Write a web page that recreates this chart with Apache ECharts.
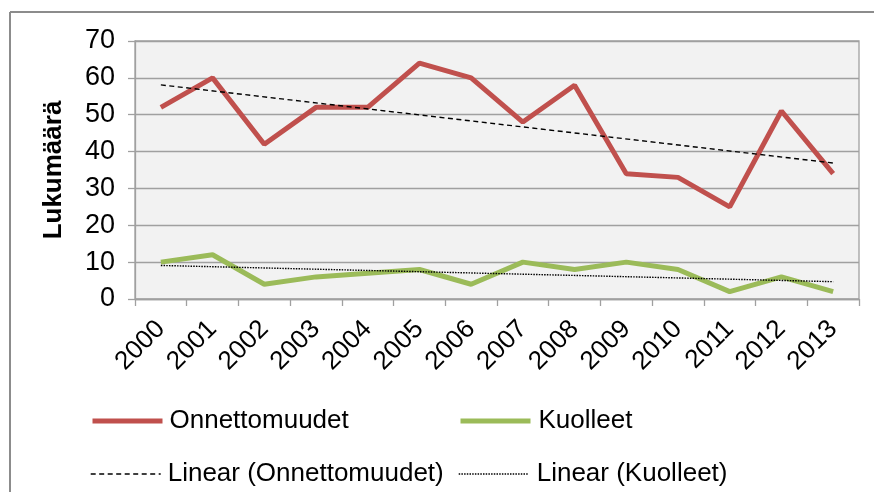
<!DOCTYPE html>
<html>
<head>
<meta charset="utf-8">
<script src="https://cdn.jsdelivr.net/npm/echarts@6/dist/echarts.min.js"></script>
<style>html,body{margin:0;padding:0;background:#fff;}#c{width:874px;height:492px;}</style>
</head>
<body>
<div id="c"></div>
<script>
const categories = ['2000','2001','2002','2003','2004','2005','2006','2007','2008','2009','2010','2011','2012','2013'];
const onnettomuudet = [52, 60, 42, 52, 52, 64, 60, 48, 58, 34, 33, 25, 51, 34];
const kuolleet = [10, 12, 4, 6, 7, 8, 4, 10, 8, 10, 8, 2, 6, 2];
// trend line end values (first year, last year)
const trendOnnettomuudet = [58.1, 36.9];
const trendKuolleet = [9.1, 4.7];
const yTicks = [0, 10, 20, 30, 40, 50, 60, 70];

function trendData(ends) {
  return categories.map((c, i) => i === 0 ? ends[0] : (i === categories.length - 1 ? ends[1] : null));
}

const FONT = '"Liberation Sans", Arial, sans-serif';
function legendAt(name, left, top, lw, pad) {
  return {
    left: left, top: top, itemWidth: 70, itemHeight: 14, itemGap: 0,
    itemStyle: { opacity: 0, borderWidth: 0 },
    lineStyle: { width: lw },
    textStyle: { fontFamily: FONT, fontSize: 26, color: '#000', padding: [0, 0, 0, pad] },
    data: [name]
  };
}
const chart = echarts.init(document.getElementById('c'));
chart.setOption({
  animation: false,
  backgroundColor: '#fff',
  textStyle: { fontFamily: FONT, color: '#000' },
  graphic: [
    { type: 'line', shape: { x1: 10, y1: 12, x2: 874, y2: 12 }, style: { stroke: '#8c8c8c', lineWidth: 2 } },
    { type: 'line', shape: { x1: 10, y1: 12, x2: 10, y2: 492 }, style: { stroke: '#8c8c8c', lineWidth: 2 } }
  ],
  grid: { left: 135, right: 15, top: 41, bottom: 193, show: true, backgroundColor: '#f2f2f2', borderColor: '#a0a0a0', borderWidth: 1.3 },
  legend: [
    legendAt('Onnettomuudet', 85, 403, 5, 2),
    legendAt('Linear (Onnettomuudet)', 85, 456, 1.4, 2),
    legendAt('Kuolleet', 453, 403, 5, 3),
    legendAt('Linear (Kuolleet)', 453, 456, 1.4, 3)
  ],
  xAxis: {
    type: 'category', data: categories, boundaryGap: true,
    axisLine: { lineStyle: { color: '#a0a0a0', width: 1.3 } },
    axisTick: { show: true, interval: 0, length: 7, lineStyle: { color: '#a0a0a0', width: 1.3 } },
    axisLabel: { rotate: 45, interval: 0, margin: 26, fontSize: 26, color: '#000', fontFamily: FONT }
  },
  yAxis: {
    type: 'value', min: 0, max: 70, interval: 10,
    name: 'Lukumäärä', nameLocation: 'middle', nameRotate: 90, nameGap: 68,
    nameTextStyle: { fontSize: 26, fontWeight: 'bold', color: '#000', fontFamily: FONT },
    axisLine: { show: true, lineStyle: { color: '#a0a0a0', width: 1.3 } },
    axisTick: { show: true, length: 7, lineStyle: { color: '#a0a0a0', width: 1.3 } },
    splitLine: { show: true, lineStyle: { color: '#a0a0a0', width: 1.3 } },
    axisLabel: { fontSize: 27, margin: 20, color: '#000', fontFamily: FONT,
      formatter: v => yTicks.includes(v) ? String(v) : '' }
  },
  series: [
    { name: 'Onnettomuudet', type: 'line', data: onnettomuudet, symbol: 'none', z: 3,
      lineStyle: { color: '#c0504d', width: 5 }, itemStyle: { color: '#c0504d' } },
    { name: 'Kuolleet', type: 'line', data: kuolleet, symbol: 'none', z: 3,
      lineStyle: { color: '#9bbb59', width: 5 }, itemStyle: { color: '#9bbb59' } },
    { name: 'Linear (Onnettomuudet)', type: 'line', data: trendData(trendOnnettomuudet), connectNulls: true, symbol: 'none', z: 4,
      lineStyle: { color: '#000', width: 1.4, type: [5, 3.5] }, itemStyle: { color: '#000' } },
    { name: 'Linear (Kuolleet)', type: 'line', data: trendData(trendKuolleet), connectNulls: true, symbol: 'none', z: 4,
      lineStyle: { color: '#000', width: 1.4, type: [1.5, 1.2] }, itemStyle: { color: '#000' } }
  ]
});
</script>
</body>
</html>
